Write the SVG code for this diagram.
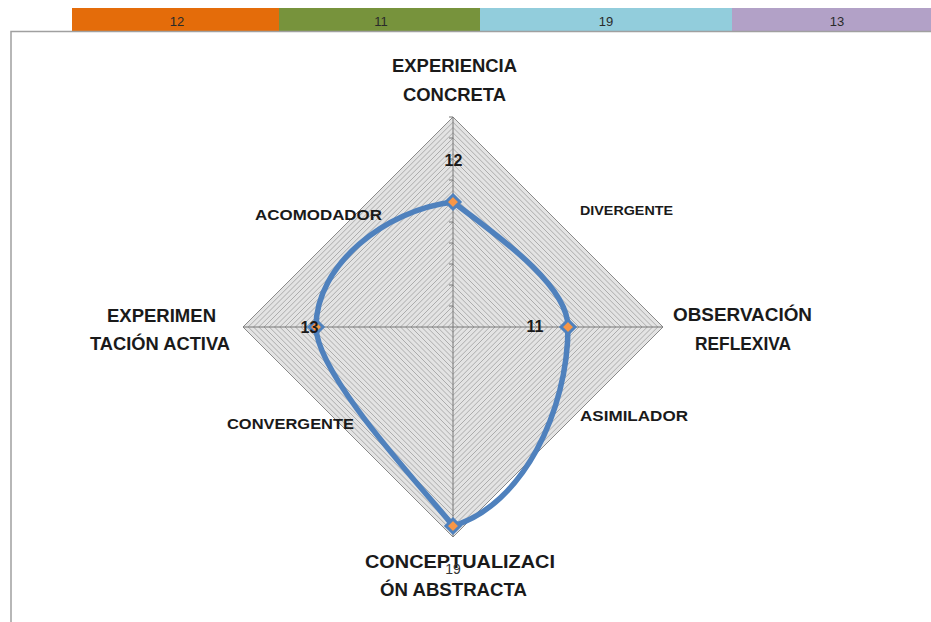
<svg xmlns="http://www.w3.org/2000/svg" width="931" height="622" viewBox="0 0 931 622">
<style>
text{font-family:"Liberation Sans",Arial,sans-serif;fill:#1a1a1a}
.main{font-size:19px;font-weight:bold}
.quad{font-size:15px;font-weight:bold}
.val{font-size:16px;font-weight:bold}
.bar{font-size:13px;fill:#2a2a2a}
.ring{fill:none;stroke:#9a9a9a;stroke-width:0.75}
.axis{stroke:#777777;stroke-width:1}
.marker{fill:#F79646;stroke:#4F81BD;stroke-width:3}
</style>
<rect width="931" height="622" fill="#ffffff"/>
<g id="header-bar">
<rect x="72" y="8" width="207" height="24" fill="#E46C0A"/>
<rect x="279" y="8" width="201" height="24" fill="#77933C"/>
<rect x="480" y="8" width="252" height="24" fill="#92CDDC"/>
<rect x="732" y="8" width="199" height="24" fill="#B2A1C7"/>
<text class="bar" x="177" y="26" text-anchor="middle">12</text>
<text class="bar" x="381" y="26" text-anchor="middle">11</text>
<text class="bar" x="606" y="26" text-anchor="middle">19</text>
<text class="bar" x="837" y="26" text-anchor="middle">13</text>
</g>
<g id="frame">
<path d="M11,622 V31.5 H931" fill="none" stroke="#a0a0a0" stroke-width="1.5"/>
</g>
<g id="radar-grid">
<path d="M453,117 L663,327 L453,537 L243,327 Z" fill="#e3e3e3" stroke="none"/>
<path class="ring" d="M453,321.75l5.25,5.25l-5.25,5.25l-5.25,-5.25z M453,316.5l10.5,10.5l-10.5,10.5l-10.5,-10.5z M453,311.25l15.75,15.75l-15.75,15.75l-15.75,-15.75z M453,306l21,21l-21,21l-21,-21z M453,300.75l26.25,26.25l-26.25,26.25l-26.25,-26.25z M453,295.5l31.5,31.5l-31.5,31.5l-31.5,-31.5z M453,290.25l36.75,36.75l-36.75,36.75l-36.75,-36.75z M453,285l42,42l-42,42l-42,-42z M453,279.75l47.25,47.25l-47.25,47.25l-47.25,-47.25z M453,274.5l52.5,52.5l-52.5,52.5l-52.5,-52.5z M453,269.25l57.75,57.75l-57.75,57.75l-57.75,-57.75z M453,264l63,63l-63,63l-63,-63z M453,258.75l68.25,68.25l-68.25,68.25l-68.25,-68.25z M453,253.5l73.5,73.5l-73.5,73.5l-73.5,-73.5z M453,248.25l78.75,78.75l-78.75,78.75l-78.75,-78.75z M453,243l84,84l-84,84l-84,-84z M453,237.75l89.25,89.25l-89.25,89.25l-89.25,-89.25z M453,232.5l94.5,94.5l-94.5,94.5l-94.5,-94.5z M453,227.25l99.75,99.75l-99.75,99.75l-99.75,-99.75z M453,222l105,105l-105,105l-105,-105z M453,216.75l110.25,110.25l-110.25,110.25l-110.25,-110.25z M453,211.5l115.5,115.5l-115.5,115.5l-115.5,-115.5z M453,206.25l120.75,120.75l-120.75,120.75l-120.75,-120.75z M453,201l126,126l-126,126l-126,-126z M453,195.75l131.25,131.25l-131.25,131.25l-131.25,-131.25z M453,190.5l136.5,136.5l-136.5,136.5l-136.5,-136.5z M453,185.25l141.75,141.75l-141.75,141.75l-141.75,-141.75z M453,180l147,147l-147,147l-147,-147z M453,174.75l152.25,152.25l-152.25,152.25l-152.25,-152.25z M453,169.5l157.5,157.5l-157.5,157.5l-157.5,-157.5z M453,164.25l162.75,162.75l-162.75,162.75l-162.75,-162.75z M453,159l168,168l-168,168l-168,-168z M453,153.75l173.25,173.25l-173.25,173.25l-173.25,-173.25z M453,148.5l178.5,178.5l-178.5,178.5l-178.5,-178.5z M453,143.25l183.75,183.75l-183.75,183.75l-183.75,-183.75z M453,138l189,189l-189,189l-189,-189z M453,132.75l194.25,194.25l-194.25,194.25l-194.25,-194.25z M453,127.5l199.5,199.5l-199.5,199.5l-199.5,-199.5z M453,122.25l204.75,204.75l-204.75,204.75l-204.75,-204.75z"/>
<path d="M453,117 L663,327 L453,537 L243,327 Z" fill="none" stroke="#8a8a8a" stroke-width="1"/>
<path class="axis" d="M453,117 V537 M243,327 H663"/>
<path class="axis" d="M449,306H453M449,285H453M449,264H453M449,243H453M449,222H453M449,201H453M449,180H453M449,159H453M449,138H453M449,117H453"/>
</g>
<g id="series">
<path d="M453,202 C498,236 568,285 568,327 C568,410 523,505 453,526 C432,498 317,378 316,327 C316,265 385,210 453,202 Z" fill="none" stroke="#4F81BD" stroke-width="5.5" stroke-linejoin="round"/>
<path class="marker" d="M453,195l7,7l-7,7l-7,-7z"/>
<path class="marker" d="M568,320l7,7l-7,7l-7,-7z"/>
<path class="marker" d="M453,519l7,7l-7,7l-7,-7z"/>
<path class="marker" d="M316,320l7,7l-7,7l-7,-7z"/>
</g>
<g id="axis-labels">
<text class="main" x="454.5" y="72" text-anchor="middle" textLength="125" lengthAdjust="spacingAndGlyphs">EXPERIENCIA</text>
<text class="main" x="454.5" y="101" text-anchor="middle" textLength="103" lengthAdjust="spacingAndGlyphs">CONCRETA</text>
<text class="main" x="742.5" y="321" text-anchor="middle" textLength="139" lengthAdjust="spacingAndGlyphs">OBSERVACIÓN</text>
<text class="main" x="743" y="350" text-anchor="middle" textLength="96" lengthAdjust="spacingAndGlyphs">REFLEXIVA</text>
<text class="main" x="161.5" y="322" text-anchor="middle" textLength="109" lengthAdjust="spacingAndGlyphs">EXPERIMEN</text>
<text class="main" x="160" y="350" text-anchor="middle" textLength="140" lengthAdjust="spacingAndGlyphs">TACIÓN ACTIVA</text>
<text class="main" x="460" y="568" text-anchor="middle" textLength="190" lengthAdjust="spacingAndGlyphs">CONCEPTUALIZACI</text>
<text class="main" x="453.5" y="596" text-anchor="middle" textLength="147" lengthAdjust="spacingAndGlyphs">ÓN ABSTRACTA</text>
</g>
<g id="quadrant-labels">
<text class="quad" x="318.5" y="220" text-anchor="middle" textLength="127" lengthAdjust="spacingAndGlyphs">ACOMODADOR</text>
<text class="quad" x="626.5" y="215" text-anchor="middle" textLength="93" lengthAdjust="spacingAndGlyphs" style="font-size:13px">DIVERGENTE</text>
<text class="quad" x="290.5" y="429" text-anchor="middle" textLength="127" lengthAdjust="spacingAndGlyphs">CONVERGENTE</text>
<text class="quad" x="634" y="421" text-anchor="middle" textLength="108" lengthAdjust="spacingAndGlyphs">ASIMILADOR</text>
</g>
<g id="data-labels">
<text class="val" x="453.5" y="166" text-anchor="middle">12</text>
<text class="val" x="535" y="332" text-anchor="middle">11</text>
<text class="val" x="309.5" y="333" text-anchor="middle">13</text>
<text x="453" y="574" text-anchor="middle" style="font-size:14px;fill:#333">19</text>
</g>
</svg>
